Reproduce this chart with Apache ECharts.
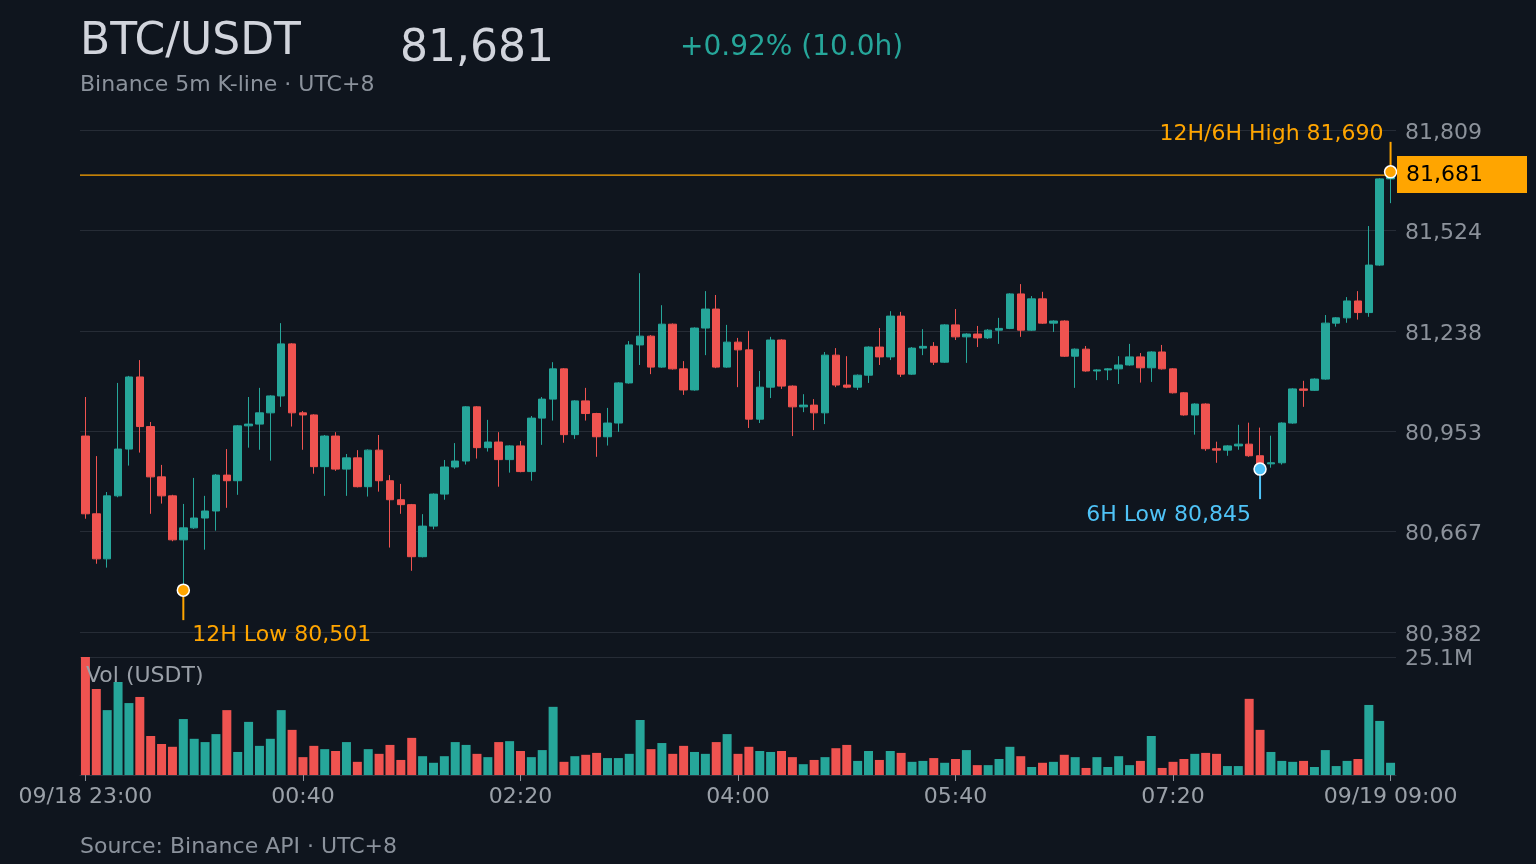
<!DOCTYPE html>
<html>
<head>
<meta charset="utf-8">
<script src="https://cdn.jsdelivr.net/npm/echarts@6.0.0/dist/echarts.min.js"></script>
<style>
  html, body { margin: 0; padding: 0; background: #0f151e; }
  #main { width: 1536px; height: 864px; }
</style>
</head>
<body>
<div id="main"></div>
<script>
// 5m candles, 09/18 23:00 -> 09/19 09:00 (UTC+8)
// rows are [open, close, low, high]
const candles = [
  [80939, 80718, 80704, 81050], [80718, 80590, 80576, 80882], [80590, 80769, 80565, 80780],
  [80769, 80902, 80765, 81090], [80902, 81107, 80855, 81110], [81107, 80966, 80892, 81155],
  [80966, 80823, 80718, 80979], [80823, 80769, 80747, 80857], [80769, 80644, 80640, 80772],
  [80644, 80678, 80501, 80746], [80678, 80706, 80675, 80820], [80706, 80726, 80616, 80769],
  [80726, 80828, 80670, 80831], [80828, 80812, 80735, 80902], [80812, 80968, 80772, 80970],
  [80968, 80973, 80906, 81050], [80973, 81005, 80900, 81076], [81005, 81053, 80869, 81055],
  [81053, 81201, 81022, 81260], [81201, 81005, 80966, 81203], [81005, 80999, 80900, 81010],
  [80999, 80852, 80832, 81001], [80852, 80939, 80769, 80942], [80939, 80845, 80840, 80950],
  [80845, 80877, 80769, 80888], [80877, 80795, 80793, 80899], [80795, 80899, 80767, 80901],
  [80899, 80812, 80781, 80942], [80812, 80758, 80622, 80828], [80758, 80744, 80718, 80803],
  [80744, 80596, 80556, 80746], [80596, 80683, 80594, 80717], [80683, 80774, 80674, 80776],
  [80774, 80851, 80758, 80871], [80851, 80868, 80846, 80919], [80868, 81022, 80858, 81024],
  [81022, 80906, 80875, 81024], [80906, 80922, 80895, 80985], [80922, 80872, 80795, 80950],
  [80872, 80911, 80835, 80913], [80911, 80838, 80836, 80925], [80838, 80990, 80812, 80996],
  [80990, 81044, 80914, 81050], [81044, 81130, 80983, 81149], [81130, 80943, 80920, 81132],
  [80943, 81039, 80931, 81041], [81039, 81003, 80983, 81076], [81003, 80937, 80880, 81005],
  [80937, 80976, 80912, 81019], [80976, 81090, 80951, 81092], [81090, 81198, 81088, 81209],
  [81198, 81223, 81141, 81402], [81223, 81135, 81115, 81226], [81135, 81257, 81133, 81311],
  [81257, 81130, 81128, 81259], [81130, 81070, 81056, 81152], [81070, 81246, 81068, 81248],
  [81246, 81300, 81169, 81351], [81300, 81135, 81132, 81340], [81135, 81206, 81133, 81255],
  [81206, 81184, 81078, 81218], [81184, 80987, 80962, 81238], [80987, 81078, 80976, 81124],
  [81078, 81212, 81047, 81221], [81212, 81081, 81073, 81214], [81081, 81022, 80939, 81083],
  [81022, 81027, 81007, 81058], [81027, 81005, 80956, 81044], [81005, 81169, 80973, 81178],
  [81169, 81084, 81078, 81189], [81084, 81078, 81075, 81166], [81078, 81112, 81070, 81114],
  [81112, 81192, 81090, 81194], [81192, 81164, 81141, 81246], [81164, 81280, 81155, 81294],
  [81280, 81115, 81107, 81292], [81115, 81189, 81113, 81192], [81189, 81194, 81169, 81243],
  [81194, 81149, 81141, 81206], [81149, 81255, 81147, 81257], [81255, 81221, 81212, 81300],
  [81221, 81229, 81147, 81231], [81229, 81218, 81192, 81252], [81218, 81240, 81215, 81243],
  [81240, 81245, 81201, 81275], [81245, 81343, 81243, 81345], [81343, 81240, 81221, 81371],
  [81240, 81329, 81238, 81337], [81329, 81260, 81258, 81349], [81260, 81266, 81235, 81268],
  [81266, 81166, 81164, 81268], [81166, 81186, 81076, 81188], [81186, 81124, 81122, 81195],
  [81124, 81127, 81098, 81129], [81127, 81130, 81098, 81132], [81130, 81141, 81087, 81166],
  [81141, 81164, 81139, 81201], [81164, 81133, 81091, 81175], [81133, 81178, 81093, 81180],
  [81178, 81130, 81128, 81198], [81130, 81062, 81060, 81132], [81062, 80999, 80997, 81064],
  [80999, 81030, 80943, 81032], [81030, 80903, 80897, 81032], [80903, 80899, 80863, 80923],
  [80899, 80911, 80883, 80913], [80911, 80916, 80900, 80971], [80916, 80883, 80880, 80977],
  [80883, 80860, 80845, 80963], [80860, 80863, 80849, 80940], [80863, 80976, 80858, 80978],
  [80976, 81073, 80974, 81075], [81073, 81069, 81022, 81096], [81069, 81101, 81067, 81103],
  [81101, 81260, 81099, 81283], [81260, 81275, 81250, 81277], [81275, 81323, 81261, 81334],
  [81323, 81290, 81270, 81351], [81290, 81425, 81278, 81536], [81425, 81670, 81423, 81672],
  [81670, 81681, 81601, 81690]
]

// volume in million USDT
const volumes = [
  25.1, 18.3, 13.8, 19.8, 15.3, 16.6, 8.3, 6.6, 6.0, 11.9, 7.7, 7.0, 8.7, 13.8, 4.9, 11.3, 6.2, 7.7, 13.8, 9.6,
  3.8, 6.2, 5.5, 5.1, 7.0, 2.8, 5.5, 4.5, 6.4, 3.2, 7.9, 4.0, 2.6, 4.0, 7.0, 6.4, 4.5, 3.8, 7.0, 7.2,
  5.1, 3.8, 5.3, 14.5, 2.8, 4.0, 4.3, 4.7, 3.6, 3.6, 4.5, 11.7, 5.5, 6.8, 4.5, 6.2, 4.9, 4.5, 7.0, 8.7,
  4.5, 6.0, 5.1, 4.9, 5.1, 3.8, 2.3, 3.2, 3.8, 5.7, 6.4, 3.0, 5.1, 3.2, 5.1, 4.7, 2.8, 3.0, 3.6, 2.6,
  3.4, 5.3, 2.1, 2.1, 3.4, 6.0, 4.0, 1.7, 2.6, 2.8, 4.3, 3.8, 1.5, 3.8, 1.7, 4.0, 2.1, 3.0, 8.3, 1.5,
  2.8, 3.4, 4.5, 4.7, 4.5, 1.9, 1.9, 16.2, 9.6, 4.9, 3.0, 2.8, 3.0, 1.7, 5.3, 1.9, 3.0, 3.4, 14.9, 11.5,
  2.6
]

const priceTicks = [80382, 80667, 80953, 81238, 81524, 81809]
const volMax = 25.1

// annotated points: candle index, price, label
const markerIdx = [9, 108, 120]
const markerPrice = [80501, 80845, 81690]
const markerName = ['12H Low', '6H Low', '12H/6H High']

const UP = '#26a69a'
const DOWN = '#ef5350'
const ORANGE = '#ffa500'
const BLUE = '#4fc3f7'
const FONT = 'DejaVu Sans, sans-serif'
const GRID_LEFT = 80
const GRID_RIGHT = 1396

// time labels, one per candle
const times = []
for (let i = 0; i < candles.length; i++) {
  const m = 23 * 60 + i * 5
  const h = Math.floor(m / 60) % 24
  const mm = m % 60
  const day = m >= 24 * 60 ? '09/19' : '09/18'
  times.push(`${day} ${String(h).padStart(2, '0')}:${String(mm).padStart(2, '0')}`)
}

const fmt = v => Math.round(v).toLocaleString('en-US')
const lastClose = candles[candles.length - 1][1]
const change = (lastClose - candles[0][0]) / candles[0][0] * 100

const main = document.getElementById('main')
const myChart = echarts.init(main)

const markerStyle = [
  { color: ORANGE, dir: 1, dx: 9, dy: 45, align: 'left' },
  { color: BLUE, dir: 1, dx: -9, dy: 46, align: 'right' },
  { color: ORANGE, dir: -1, dx: -7, dy: -38, align: 'right' }
]

myChart.setOption({
  backgroundColor: '#0f151e',
  animation: false,
  textStyle: { fontFamily: FONT },
  graphic: [
    { id: 'title', type: 'text', x: 80, y: 43, z: 100, style: { text: 'BTC/USDT', fill: '#d1d4dc', font: `44px ${FONT}`, verticalAlign: 'middle' } },
    { id: 'last', type: 'text', x: 400, y: 50, z: 100, style: { text: fmt(lastClose), fill: '#d1d4dc', font: `44px ${FONT}`, verticalAlign: 'middle' } },
    { id: 'chg', type: 'text', x: 680, y: 48, z: 100, style: { text: `+${change.toFixed(2)}% (10.0h)`, fill: UP, font: `28px ${FONT}`, verticalAlign: 'middle' } },
    { id: 'sub', type: 'text', x: 80, y: 85, z: 100, style: { text: 'Binance 5m K-line · UTC+8', fill: '#8b929c', font: `22px ${FONT}`, verticalAlign: 'middle' } },
    { id: 'vol', type: 'text', x: 86, y: 676, z: 100, style: { text: 'Vol (USDT)', fill: '#9aa0a8', font: `22px ${FONT}`, verticalAlign: 'middle' } },
    { id: 'src', type: 'text', x: 80, y: 847, z: 100, style: { text: 'Source: Binance API · UTC+8', fill: '#8b929c', font: `22px ${FONT}`, verticalAlign: 'middle' } }
  ],
  grid: [
    { left: GRID_LEFT, right: 1536 - GRID_RIGHT, top: 130, height: 502 },
    { left: GRID_LEFT, right: 1536 - GRID_RIGHT, top: 657, height: 118 }
  ],
  xAxis: [
    {
      type: 'category', gridIndex: 0, data: times, boundaryGap: true,
      axisLine: { show: false }, axisTick: { show: false }, axisLabel: { show: false }, splitLine: { show: false }
    },
    {
      type: 'category', gridIndex: 1, data: times, boundaryGap: true,
      axisLine: { show: true, lineStyle: { color: '#2f3540' } },
      axisTick: { show: true, alignWithLabel: true, interval: 19, length: 6, lineStyle: { color: '#8c929b' } },
      axisLabel: {
        interval: 19, color: '#9aa0a8', fontSize: 22, margin: 11,
        formatter: (v, i) => (i === 0 || i === times.length - 1) ? v : v.slice(6)
      },
      splitLine: { show: false }
    }
  ],
  yAxis: [
    {
      type: 'value', gridIndex: 0, position: 'right',
      min: priceTicks[0], max: priceTicks[priceTicks.length - 1],
      axisLine: { show: false },
      axisTick: { show: false, customValues: priceTicks },
      axisLabel: {
        color: '#8c929b', fontSize: 22, margin: 9, verticalAlign: 'top', lineHeight: 6,
        customValues: priceTicks, formatter: v => fmt(v)
      },
      splitLine: { show: true, lineStyle: { color: '#262c36', width: 1 } }
    },
    {
      type: 'value', gridIndex: 1, position: 'right', min: 0, max: volMax, interval: volMax,
      axisLine: { show: false }, axisTick: { show: false },
      axisLabel: {
        color: '#8c929b', fontSize: 22, margin: 9, verticalAlign: 'top', lineHeight: 5,
        formatter: v => v ? v.toFixed(1) + 'M' : ''
      },
      splitLine: { show: true, lineStyle: { color: '#262c36', width: 1 } }
    }
  ],
  series: [
    {
      name: 'BTC/USDT',
      type: 'candlestick',
      xAxisIndex: 0, yAxisIndex: 0,
      data: candles,
      barWidth: 8,
      itemStyle: { color: UP, color0: DOWN, borderColor: UP, borderColor0: DOWN, borderWidth: 1 }
    },
    {
      name: 'Vol',
      type: 'bar',
      xAxisIndex: 1, yAxisIndex: 1,
      barWidth: 9,
      data: volumes.map((v, i) => ({
        value: v,
        itemStyle: { color: candles[i][1] >= candles[i][0] ? UP : DOWN }
      }))
    },
    {
      name: 'markers',
      type: 'custom',
      xAxisIndex: 0, yAxisIndex: 0,
      clip: false,
      z: 10,
      data: markerIdx.map((idx, i) => [idx, markerPrice[i]]),
      renderItem: (params, api) => {
        const s = markerStyle[params.dataIndex]
        const p = api.coord([api.value(0), api.value(1)])
        return {
          type: 'group',
          children: [
            { type: 'line', shape: { x1: p[0], y1: p[1], x2: p[0], y2: p[1] + s.dir * 30 }, style: { stroke: s.color, lineWidth: 2 } },
            { type: 'circle', shape: { cx: p[0], cy: p[1], r: 6 }, style: { fill: s.color, stroke: '#ffffff', lineWidth: 1.5 } },
            {
              type: 'text', x: p[0] + s.dx, y: p[1] + s.dy,
              style: {
                text: `${markerName[params.dataIndex]} ${fmt(api.value(1))}`,
                fill: s.color, font: `22px ${FONT}`, align: s.align, verticalAlign: 'middle'
              }
            }
          ]
        }
      }
    }
  ]
})

// last price line + tag, placed through the price axis
const py = myChart.convertToPixel({ yAxisIndex: 0 }, lastClose)
myChart.setOption({
  graphic: [
    { id: 'lastLine', type: 'line', z: 5, shape: { x1: GRID_LEFT, y1: py, x2: GRID_RIGHT, y2: py }, style: { stroke: ORANGE, lineWidth: 1.2 } },
    { id: 'lastTag', type: 'rect', z: 20, shape: { x: GRID_RIGHT + 1, y: Math.round(py) - 19, width: 130, height: 37 }, style: { fill: ORANGE } },
    { id: 'lastTagText', type: 'text', z: 21, x: GRID_RIGHT + 10, y: py, style: { text: fmt(lastClose), fill: '#000', font: `22px ${FONT}`, verticalAlign: 'middle' } }
  ]
})
</script>
</body>
</html>
